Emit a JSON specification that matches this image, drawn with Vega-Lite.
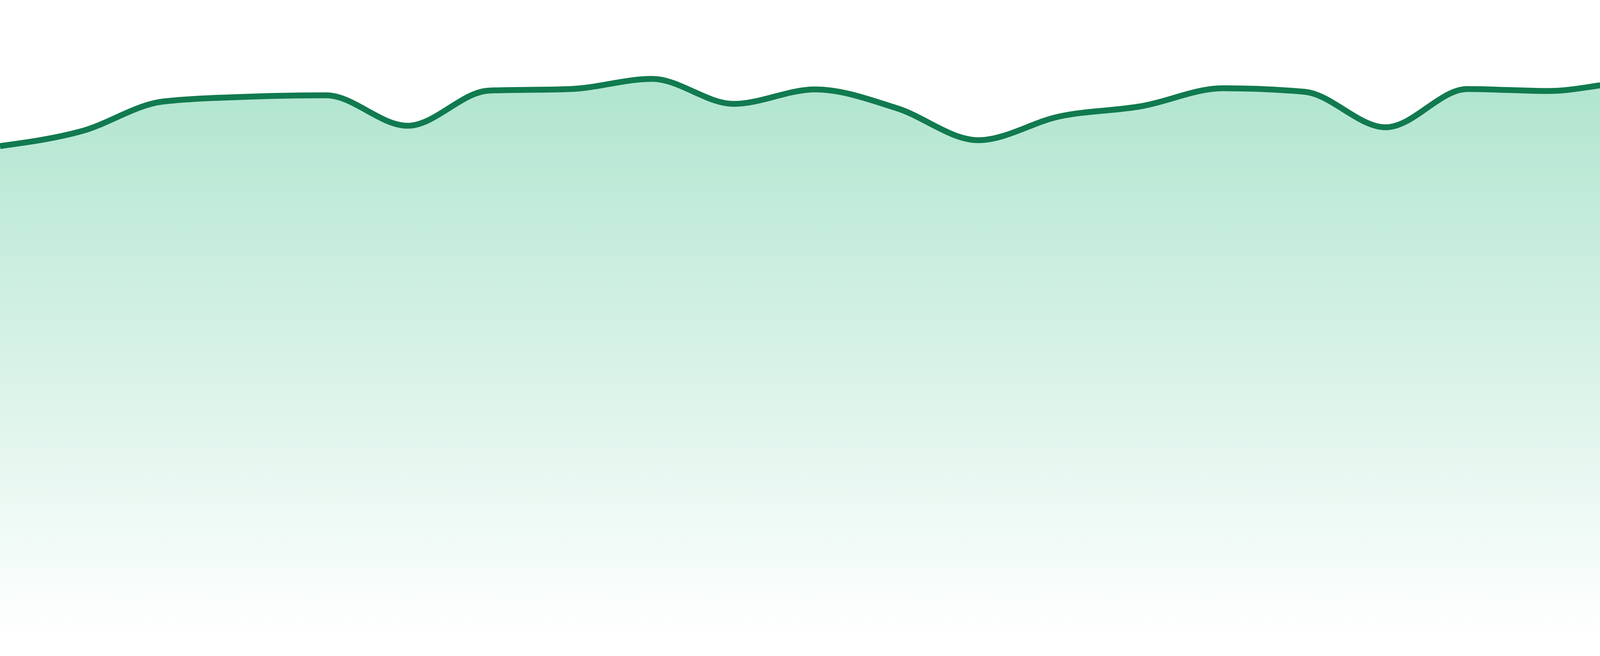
{
  "$schema": "https://vega.github.io/schema/vega-lite/v6.json",
  "background": "#ffffff",
  "width": 4800,
  "height": 1632,
  "autosize": "none",
  "padding": {"left": 0, "top": 0, "right": 0, "bottom": 48},
  "data": {
    "values": [
      {"i": 0, "v": 1258}, {"i": 1, "v": 1296}, {"i": 2, "v": 1372},
      {"i": 3, "v": 1384}, {"i": 4, "v": 1388}, {"i": 5, "v": 1310},
      {"i": 6, "v": 1400}, {"i": 7, "v": 1404}, {"i": 8, "v": 1430},
      {"i": 9, "v": 1366}, {"i": 10, "v": 1403}, {"i": 11, "v": 1355},
      {"i": 12, "v": 1273}, {"i": 13, "v": 1334}, {"i": 14, "v": 1360},
      {"i": 15, "v": 1406}, {"i": 16, "v": 1397}, {"i": 17, "v": 1306},
      {"i": 18, "v": 1404}, {"i": 19, "v": 1399}, {"i": 20, "v": 1420},
      {"i": 21, "v": 1335}, {"i": 22, "v": 1400}, {"i": 23, "v": 1331}
    ]
  },
  "mark": {
    "type": "area",
    "interpolate": "monotone",
    "opacity": 1,
    "fillOpacity": 1,
    "line": {"color": "#117a4f", "strokeWidth": 15, "opacity": 1},
    "color": {
      "gradient": "linear",
      "x1": 0, "y1": 0, "x2": 0, "y2": 1,
      "stops": [
        {"offset": 0, "color": "#b0e5cf"},
        {"offset": 1, "color": "#ffffff"}
      ]
    }
  },
  "encoding": {
    "x": {
      "field": "i",
      "type": "quantitative",
      "axis": null,
      "scale": {"domain": [0, 23], "nice": false, "zero": false}
    },
    "y": {
      "field": "v",
      "type": "quantitative",
      "axis": null,
      "scale": {"domain": [0, 1632], "nice": false}
    }
  },
  "config": {
    "view": {"stroke": null}
  }
}
